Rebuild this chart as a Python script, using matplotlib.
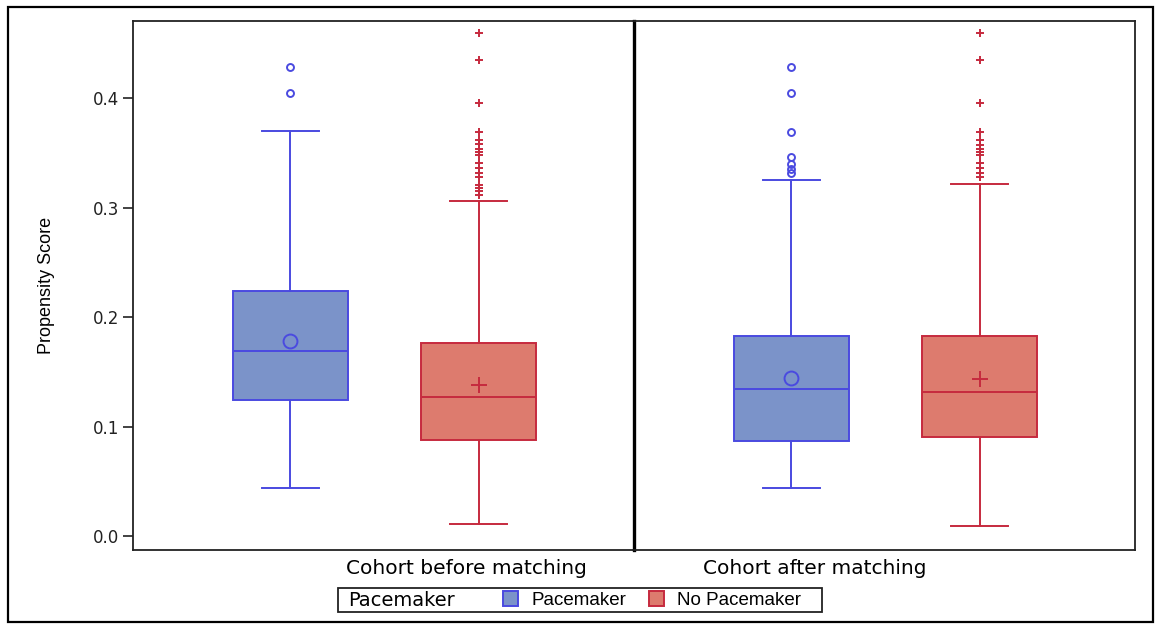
import matplotlib
matplotlib.use("Agg")
import matplotlib.pyplot as plt
from matplotlib.patches import Patch, Rectangle
import numpy as np

plt.rcParams["font.family"] = ["DejaVu Sans"]

cohorts = ["Cohort before matching", "Cohort after matching"]
groups = ["Pacemaker", "No Pacemaker"]
legend_title = "Pacemaker"

# box statistics, [before, after]
pm_q1 = [0.1246, 0.0868]
pm_med = [0.169, 0.134]
pm_q3 = [0.2243, 0.183]
pm_lo = [0.0442, 0.0439]
pm_hi = [0.370, 0.325]
pm_mean = [0.178, 0.144]
pm_fliers = [
    [0.429, 0.4047],
    [0.429, 0.4047, 0.3696, 0.3467, 0.3398, 0.335, 0.3315],
]

np_q1 = [0.0877, 0.0902]
np_med = [0.127, 0.1316]
np_q3 = [0.1764, 0.183]
np_lo = [0.011, 0.0094]
np_hi = [0.306, 0.3215]
np_mean = [0.138, 0.1432]
np_fliers = [
    [0.4595, 0.4348, 0.3953, 0.369, 0.362, 0.358, 0.354, 0.351, 0.348,
     0.341, 0.336, 0.332, 0.328, 0.321, 0.318, 0.315, 0.312],
    [0.4595, 0.4348, 0.3953, 0.369, 0.362, 0.357, 0.354, 0.351, 0.348,
     0.341, 0.336, 0.332, 0.328],
]

PM_FILL, PM_EDGE = "#7b93c9", "#4a4ae0"
NP_FILL, NP_EDGE = "#dd7b6e", "#c62a3e"


def stats(q1, med, q3, lo, hi, mean, fl):
    return dict(q1=q1, med=med, q3=q3, whislo=lo, whishi=hi, mean=mean,
                fliers=np.array(fl))


def draw_box(ax, st, pos, fill, edge, mean_marker, flier_marker, mean_ms, flier_ms):
    ax.bxp([st], positions=[pos], widths=0.23, showmeans=True, patch_artist=True,
           boxprops=dict(facecolor=fill, edgecolor=edge, linewidth=1.4),
           medianprops=dict(color=edge, linewidth=1.4),
           whiskerprops=dict(color=edge, linewidth=1.4),
           capprops=dict(color=edge, linewidth=1.4),
           capwidths=0.115,
           meanprops=dict(marker=mean_marker, markerfacecolor="none",
                          markeredgecolor=edge, markersize=mean_ms, markeredgewidth=1.4),
           flierprops=dict(marker=flier_marker, markerfacecolor="none",
                           markeredgecolor=edge, markersize=flier_ms, markeredgewidth=1.4))


def main():
    fig = plt.figure(figsize=(11.56, 6.26), dpi=100)
    W, H = 1156, 626
    left, right, top, bottom, mid = 133, 1135, 21, 550, 634
    ax1 = fig.add_axes([left / W, 1 - bottom / H, (mid - left) / W, (bottom - top) / H])
    ax2 = fig.add_axes([mid / W, 1 - bottom / H, (right - mid) / W, (bottom - top) / H],
                       sharey=ax1)

    for i, ax in enumerate([ax1, ax2]):
        draw_box(ax, stats(pm_q1[i], pm_med[i], pm_q3[i], pm_lo[i], pm_hi[i],
                           pm_mean[i], pm_fliers[i]),
                 -0.186, PM_FILL, PM_EDGE, "o", "o", 10, 5)
        draw_box(ax, stats(np_q1[i], np_med[i], np_q3[i], np_lo[i], np_hi[i],
                           np_mean[i], np_fliers[i]),
                 0.19, NP_FILL, NP_EDGE, "+", "+", 11, 6)
        ax.set_xlim(-0.5, 0.5)
        ax.set_xticks([])
        for s in ax.spines.values():
            s.set_color("#222222")
            s.set_linewidth(1.3)

    # thick black divider between the two cohorts
    ax1.spines["right"].set_visible(False)
    ax2.spines["left"].set_color("black")
    ax2.spines["left"].set_linewidth(2.4)
    ax2.tick_params(axis="y", left=False, labelleft=False)

    ax1.set_ylim(-0.0128, 0.4707)
    ax1.set_yticks([0.0, 0.1, 0.2, 0.3, 0.4])
    ax1.set_yticklabels(["0.0", "0.1", "0.2", "0.3", "0.4"])
    ax1.tick_params(axis="y", direction="out", length=7, width=1.2, labelsize=12,
                    colors="#222222", pad=3)
    ax1.set_ylabel("Propensity Score", fontsize=13, labelpad=27,
                   family=["Liberation Sans"])

    fig.text(466 / W, 1 - 569 / H, cohorts[0], ha="center", va="center", fontsize=14.5)
    fig.text(815 / W, 1 - 569 / H, cohorts[1], ha="center", va="center", fontsize=14.5)

    # legend frame with the title on the left, entries on the right
    fig.add_artist(Rectangle((338 / W, 1 - 612 / H), (822 - 338) / W, (612 - 588) / H,
                             transform=fig.transFigure, fill=False, edgecolor="#222222",
                             linewidth=1.3))
    fig.text(348 / W, 1 - 600 / H, legend_title, ha="left", va="center", fontsize=14)
    handles = [Patch(facecolor=PM_FILL, edgecolor=PM_EDGE, lw=1.4, label=groups[0]),
               Patch(facecolor=NP_FILL, edgecolor=NP_EDGE, lw=1.4, label=groups[1])]
    fig.legend(handles=handles, ncol=2, loc="center left", bbox_to_anchor=(503 / W, 1 - 600 / H),
               frameon=False, handlelength=0.8, handleheight=0.8,
               handletextpad=0.7, columnspacing=1.2, borderpad=0, borderaxespad=0,
               prop=dict(family="Liberation Sans", size=13.5))

    fig.add_artist(Rectangle((8 / W, 1 - 622 / H), (1153 - 8) / W, (622 - 7) / H,
                             transform=fig.transFigure, fill=False, edgecolor="black",
                             linewidth=1.6))

    fig.savefig("out.png", dpi=100)


if __name__ == "__main__":
    main()
